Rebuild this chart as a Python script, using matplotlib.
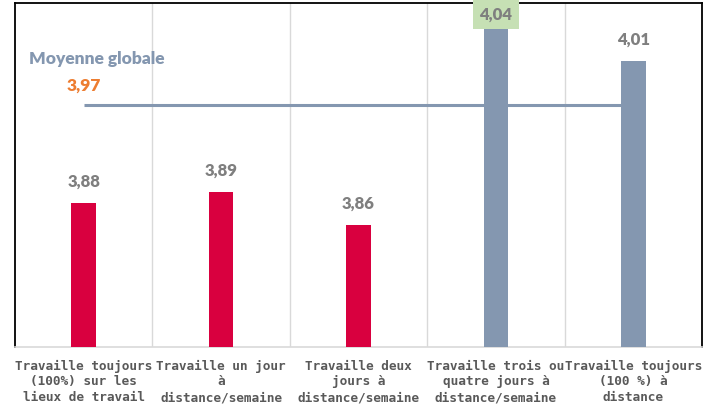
import matplotlib
matplotlib.use("Agg")
import matplotlib.pyplot as plt

categories = [
    "Travaille toujours\n(100%) sur les\nlieux de travail",
    "Travaille un jour\nà\ndistance/semaine",
    "Travaille deux\njours à\ndistance/semaine",
    "Travaille trois ou\nquatre jours à\ndistance/semaine",
    "Travaille toujours\n(100 %) à\ndistance",
]
values = [3.88, 3.89, 3.86, 4.04, 4.01]
value_labels = ["3,88", "3,89", "3,86", "4,04", "4,01"]
average = 3.97
average_label = "3,97"
average_title = "Moyenne globale"

RED = "#D9003F"
BLUE = "#8497B0"
bar_colors = [RED, RED, RED, BLUE, BLUE]

fig = plt.figure(figsize=(7.19, 4.15), dpi=100)
ax = fig.add_axes([15/719, 1 - 347/415, 687/719, 344/415])

x = list(range(len(values)))
ax.bar(x, values, width=0.18, color=bar_colors, zorder=3)
ax.plot([0, len(values) - 1], [average, average], color=BLUE, lw=2.2, zorder=2,
        solid_capstyle="butt")

ax.set_xlim(-0.5, len(values) - 0.5)
ax.set_ylim(3.748, 4.063)
ax.set_yticks([])
ax.set_xticks(x)
ax.set_xticklabels(categories, family="DejaVu Sans Mono", fontweight="bold",
                   fontsize=9.2, color="#595959", linespacing=1.28)
ax.tick_params(axis="x", length=0, pad=9)

for b in [0.5, 1.5, 2.5, 3.5]:
    ax.axvline(b, color="#D9D9D9", lw=1, zorder=1)

for side in ["left", "top", "right"]:
    ax.spines[side].set_color("black")
    ax.spines[side].set_linewidth(1.3)
ax.spines["bottom"].set_color("#D9D9D9")
ax.spines["bottom"].set_linewidth(1.2)

LBL = dict(family="Lato", fontweight="heavy")

for i, (v, lab) in enumerate(zip(values, value_labels)):
    if i == 3:
        ax.annotate(lab, (i, v), xytext=(0, 10), textcoords="offset points",
                    ha="center", va="center", fontsize=12, color="#7F7F7F",
                    zorder=10, annotation_clip=False,
                    bbox=dict(boxstyle="square,pad=0.4", fc="#C6E0B4", ec="none"),
                    **LBL)
    else:
        ax.annotate(lab, (i, v), xytext=(0, 15), textcoords="offset points",
                    ha="center", va="center", fontsize=12, color="#7F7F7F",
                    zorder=10, **LBL)

ax.annotate(average_label, (0, average), xytext=(0, 13.5), textcoords="offset points",
            ha="center", va="center", fontsize=12.5, color="#ED7D31", **LBL)
ax.annotate(average_title, (0.097, average), xytext=(0, 33), textcoords="offset points",
            ha="center", va="center", fontsize=12.5, color=BLUE, **LBL)

fig.savefig("out.png", dpi=100)
